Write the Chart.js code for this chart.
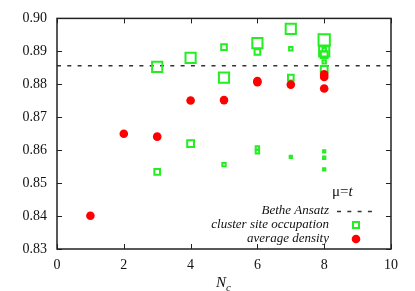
<!DOCTYPE html>
<html lang="en">
<head>
<meta charset="UTF-8">
<title>Cluster site occupation vs Nc</title>
<script src="https://cdn.jsdelivr.net/npm/chart.js"></script>
<style>
    html, body { margin: 0; padding: 0; background: #fff; }
    #wrap { width: 415px; height: 291px; }
</style>
</head>
<body>
<div id="wrap"><canvas id="chart" width="415" height="291"></canvas></div>
<script>
// cluster site occupation (marker size ~ weight of the site)
const occN      = [3, 3, 4, 4, 5, 5, 5, 6, 6, 6, 6, 7, 7, 7, 7, 8, 8, 8, 8, 8, 8, 8, 8, 8];
const occValue  = [0.8853, 0.8534, 0.8880, 0.8620, 0.8913, 0.8820, 0.8556, 0.8925, 0.8898, 0.8607, 0.8595,
                   0.8968, 0.8908, 0.8820, 0.8580, 0.8935, 0.8900, 0.8905, 0.8868, 0.8845, 0.8596, 0.8577, 0.8542, 0.8890];
const occWeight = [4.5, 2.5, 4.5, 3, 2.5, 4.5, 1.5, 4.5, 2.5, 1.5, 1.5,
                   4.5, 1.5, 2.5, 1, 5, 4.5, 1.5, 1.5, 3, 1, 1, 1, 3];

// average density
const densN     = [1, 2, 3, 4, 5, 6, 6, 7, 8, 8, 8];
const densValue = [0.8401, 0.8650, 0.8641, 0.8751, 0.8752, 0.8810, 0.8806, 0.8799, 0.8830, 0.8822, 0.8787];

// Bethe Ansatz reference value
const betheAnsatz = 0.8856;

const xTicks = [0, 2, 4, 6, 8, 10];
const yTicks = [0.83, 0.84, 0.85, 0.86, 0.87, 0.88, 0.89, 0.90];

Chart.defaults.font.family = '"Liberation Serif", "DejaVu Serif", serif';
Chart.defaults.font.size = 14;
Chart.defaults.color = '#111';

// frame with inward ticks on all four sides
const framePlugin = {
    id: 'frame',
    afterDatasetsDraw(chart) {
        const { ctx, chartArea: a, scales } = chart;
        ctx.save();
        ctx.strokeStyle = '#222';
        ctx.lineWidth = 1;
        xTicks.forEach(v => {
            const px = Math.round(scales.x.getPixelForValue(v)) + 0.5;
            ctx.beginPath();
            ctx.moveTo(px, a.bottom); ctx.lineTo(px, a.bottom - 5);
            ctx.moveTo(px, a.top); ctx.lineTo(px, a.top + 5);
            ctx.stroke();
        });
        yTicks.forEach(v => {
            const py = Math.round(scales.y.getPixelForValue(v)) + 0.5;
            ctx.beginPath();
            ctx.moveTo(a.left, py); ctx.lineTo(a.left + 5, py);
            ctx.moveTo(a.right, py); ctx.lineTo(a.right - 5, py);
            ctx.stroke();
        });
        ctx.lineWidth = 1.5;
        ctx.strokeRect(a.left, a.top, a.right - a.left, a.bottom - a.top);
        ctx.restore();
    },
    afterDraw(chart) {
        const { ctx, chartArea: a } = chart;
        ctx.save();
        // mu = t
        ctx.fillStyle = '#111';
        ctx.textBaseline = 'middle';
        ctx.textAlign = 'left';
        ctx.font = '15px "Liberation Serif", serif';
        const muX = a.right - 59, muY = a.bottom - 57;
        ctx.fillText('\u03bc=', muX, muY);
        const w = ctx.measureText('\u03bc=').width;
        ctx.font = 'italic 15px "Liberation Serif", serif';
        ctx.fillText('t', muX + w, muY);

        // legend
        const textX = a.right - 62, sx = a.right - 35;
        const rows = [a.bottom - 38, a.bottom - 24, a.bottom - 10];
        ctx.font = 'italic 13px "Liberation Serif", serif';
        ctx.textAlign = 'right';
        ctx.fillText('Bethe Ansatz', textX, rows[0]);
        ctx.fillText('cluster site occupation', textX, rows[1]);
        ctx.fillText('average density', textX, rows[2]);

        ctx.strokeStyle = '#333';
        ctx.lineWidth = 1.5;
        ctx.setLineDash([4, 6.3]);
        ctx.beginPath();
        ctx.moveTo(a.right - 54, rows[0] + 0.5);
        ctx.lineTo(a.right - 17, rows[0] + 0.5);
        ctx.stroke();
        ctx.setLineDash([]);

        ctx.strokeStyle = '#22ee22';
        ctx.lineWidth = 2;
        ctx.strokeRect(sx - 3, rows[1] - 3, 6, 6);

        ctx.fillStyle = '#ff0000';
        ctx.beginPath();
        ctx.arc(sx, rows[2], 4.3, 0, Math.PI * 2);
        ctx.fill();

        // axis title N_c
        ctx.fillStyle = '#111';
        ctx.textAlign = 'left';
        ctx.textBaseline = 'alphabetic';
        ctx.font = 'italic 15px "Liberation Serif", serif';
        const nx = (a.left + a.right) / 2 - 8;
        ctx.fillText('N', nx, 287);
        const nw = ctx.measureText('N').width;
        ctx.font = 'italic 11px "Liberation Serif", serif';
        ctx.fillText('c', nx + nw, 291);
        ctx.restore();
    }
};

const occPoints = occN.map((n, i) => ({ x: n, y: occValue[i] }));
const densPoints = densN.map((n, i) => ({ x: n, y: densValue[i] }));

new Chart(document.getElementById('chart').getContext('2d'), {
    type: 'scatter',
    data: {
        datasets: [
            {
                label: 'average density',
                data: densPoints,
                pointStyle: 'circle',
                pointRadius: 4.3,
                backgroundColor: '#ff0000',
                borderColor: '#ff0000',
                borderWidth: 0
            },
            {
                label: 'cluster site occupation',
                data: occPoints,
                pointStyle: 'rect',
                pointRadius: occWeight.map(wt => 1.6 * wt),
                backgroundColor: 'rgba(0,0,0,0)',
                borderColor: '#22ee22',
                borderWidth: 2
            },
            {
                label: 'Bethe Ansatz',
                type: 'line',
                data: [{ x: xTicks[0], y: betheAnsatz }, { x: xTicks[xTicks.length - 1], y: betheAnsatz }],
                borderColor: '#333',
                borderWidth: 1.5,
                borderDash: [4, 6.3],
                pointRadius: 0
            }
        ]
    },
    options: {
        responsive: false,
        animation: false,
        layout: { padding: { top: 16, right: 24, left: 0, bottom: 0 } },
        plugins: { legend: { display: false }, tooltip: { enabled: false } },
        scales: {
            x: {
                type: 'linear',
                min: 0,
                max: 10,
                grid: { display: false, drawTicks: false },
                border: { display: false },
                afterBuildTicks: s => { s.ticks = xTicks.map(v => ({ value: v })); },
                afterFit: s => { s.height = 42; },
                ticks: { padding: 8, maxRotation: 0 }
            },
            y: {
                min: 0.83,
                max: 0.90,
                grid: { display: false, drawTicks: false },
                border: { display: false },
                afterBuildTicks: s => { s.ticks = yTicks.map(v => ({ value: v })); },
                afterFit: s => { s.width = 57; },
                ticks: { padding: 10, callback: v => v.toFixed(2) }
            }
        }
    },
    plugins: [framePlugin]
});
</script>
</body>
</html>
